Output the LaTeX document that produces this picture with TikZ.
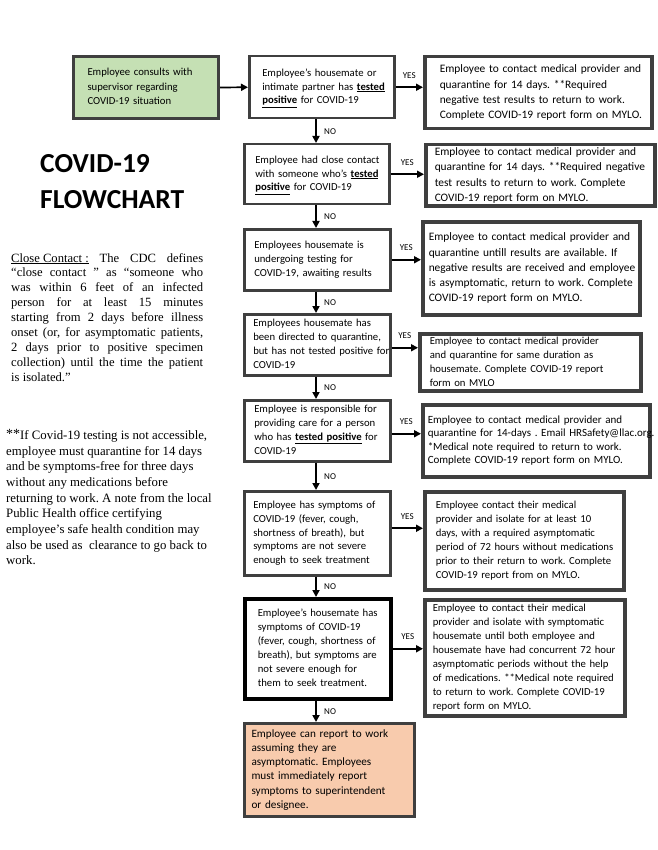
\documentclass[tikz,border=0pt]{standalone}
\usepackage{fontspec}
\setmainfont{Carlito}
\newfontfamily\serifnote{Liberation Serif}
\usetikzlibrary{arrows.meta,calc}
\definecolor{bord}{HTML}{3F3F3F}
\definecolor{greenfill}{HTML}{C5E0B4}
\definecolor{peach}{HTML}{F8CBAD}
\newcommand{\ulb}[1]{\underline{\textbf{#1}}}
\newcommand{\ls}[1]{\noindent\begin{tabular}{@{}l@{}}#1\end{tabular}}
\frenchspacing
\begin{document}
\begin{tikzpicture}[x=1pt,y=-1pt,
  base/.style={anchor=north west, inner ysep=0pt, align=left},
  qbox/.style={base, draw=bord, line width=2.5pt, font=\fontsize{10.7}{13.9}\selectfont},
  abox/.style={base, draw=bord, line width=3.5pt},
  bigtxt/.style={font=\fontsize{11.4}{15.3}\selectfont},
  smtxt/.style={font=\fontsize{10.7}{14}\selectfont},
  arr/.style={line width=1.7pt, -{Triangle[length=7pt,width=7pt]}},
  yes/.style={above=5pt, pos=0.5, font=\fontsize{9}{9}\selectfont},
  no/.style={right=4pt, pos=0.5, font=\fontsize{9}{9}\selectfont},
  title/.style={anchor=base west, inner sep=0pt, font=\bfseries\fontsize{27.5}{33}\selectfont}
]
\fill[white] (0,0) rectangle (657,850);
\useasboundingbox (0,0) rectangle (657,850);

% left column
\node[title] (t1) at (40,172.5) {COVID-19};
\node[title] (t2) at (40,209) {FLOWCHART};

\node[anchor=north west, inner sep=0pt, align=left, font=\serifnote\fontsize{12.6}{14.9}\selectfont] (cc) at (11,253) {%
\makebox[192pt][s]{\underline{Close Contact :} The CDC defines}\\
\makebox[192pt][s]{“close contact ” as “someone who}\\
\makebox[192pt][s]{was within 6 feet of an infected}\\
\makebox[192pt][s]{person for at least 15 minutes}\\
\makebox[192pt][s]{starting from 2 days before illness}\\
\makebox[192pt][s]{onset (or, for asymptomatic patients,}\\
\makebox[192pt][s]{2 days prior to positive specimen}\\
\makebox[192pt][s]{collection) until the time the patient}\\
is isolated.”};

\node[anchor=north west, inner sep=0pt, align=left, font=\serifnote\fontsize{12.8}{15.7}\selectfont] (note) at (6,429) {%
\raisebox{1pt}{\fontsize{14}{14}\selectfont **}If Covid-19 testing is not accessible,\\
employee must quarantine for 14 days\\
and be symptoms-free for three days\\
without any medications before\\
returning to work. A note from the local\\
Public Health office certifying\\
employee’s safe health condition may\\
also be used as\ \ clearance to go back to\\
work.};

% flow boxes
\node[base, draw=bord, line width=3pt, fill=greenfill, inner xsep=14pt, minimum width=145pt, minimum height=62pt, text width=117pt, font=\fontsize{10.7}{14.5}\selectfont] (g) at (72,55)
 {\ls{Employee consults with\\ supervisor regarding\\ COVID-19 situation}};

\node[qbox, inner xsep=13pt, minimum width=145pt, minimum height=62pt, text width=119pt] (q1) at (248,55)
 {\ls{Employee’s housemate or\\ intimate partner has \ulb{tested}\\ \ulb{positive} for COVID-19}};
\node[abox, bigtxt, inner xsep=15pt, minimum width=227pt, minimum height=72pt, text width=197pt] (a1) at (423,55)
 {\ls{Employee to contact medical provider and\\ quarantine for 14 days. **Required\\ negative test results to return to work.\\ Complete COVID-19 report form on MYLO.}};

\node[qbox, inner xsep=11pt, minimum width=145pt, minimum height=60pt, text width=123pt] (q2) at (243,143)
 {\ls{Employee had close contact\\ with someone who’s \ulb{tested}\\ \ulb{positive} for COVID-19}};
\node[abox, bigtxt, inner xsep=9pt, minimum width=229pt, minimum height=59pt, text width=211pt] (a2) at (424,143)
 {\ls{Employee to contact medical provider and\\ quarantine for 14 days. **Required negative\\ test results to return to work. Complete\\ COVID-19 report form on MYLO.}};

\node[qbox, inner xsep=10pt, minimum width=146pt, minimum height=61pt, text width=126pt] (q3) at (243,228)
 {\ls{Employees housemate is\\ undergoing testing for\\ COVID-19, awaiting results}};
\node[abox, bigtxt, inner xsep=6pt, minimum width=217pt, minimum height=93pt, text width=205pt] (a3) at (421,220)
 {\ls{Employee to contact medical provider and\\ quarantine untill results are available. If\\ negative results are received and employee\\ is asymptomatic, return to work. Complete\\ COVID-19 report form on MYLO.}};

\node[qbox, inner xsep=9pt, minimum width=146pt, minimum height=61pt, text width=128pt] (q4) at (243,313)
 {\ls{Employees housemate has\\ been directed to quarantine,\\ but has not tested positive for\\ COVID-19}};
\node[abox, smtxt, inner xsep=10pt, minimum width=221pt, minimum height=57pt, text width=201pt] (a4) at (418,332)
 {\ls{Employee to contact medical provider\\ and quarantine for same duration as\\ housemate. Complete COVID-19 report\\ form on MYLO}};

\node[qbox, inner xsep=10pt, minimum width=146pt, minimum height=61pt, text width=126pt] (q5) at (243,399)
 {\ls{Employee is responsible for\\ providing care for a person\\ who has \ulb{tested positive} for\\ COVID-19}};
\node[abox, inner xsep=5pt, minimum width=227pt, minimum height=72pt, text width=217pt, font=\fontsize{11}{13.6}\selectfont] (a5) at (421,403)
 {\ls{Employee to contact medical provider and\\ quarantine for 14-days . Email HRSafety@llac.org.\\ **Medical note required to return to work.\\ Complete COVID-19 report form on MYLO.}};

\node[qbox, inner xsep=9pt, minimum width=146pt, minimum height=84pt, text width=128pt] (q6) at (243,490)
 {\ls{Employee has symptoms of\\ COVID-19 (fever, cough,\\ shortness of breath), but\\ symptoms are not severe\\ enough to seek treatment}};
\node[abox, smtxt, inner xsep=11pt, minimum width=199pt, minimum height=98pt, text width=177pt] (a6) at (423,490)
 {\ls{Employee contact their medical\\ provider and isolate for at least 10\\ days, with a required asymptomatic\\ period of 72 hours without medications\\ prior to their return to work. Complete\\ COVID-19 report from on MYLO.}};

\node[qbox, draw=black, line width=3.5pt, inner xsep=13pt, minimum width=146pt, minimum height=100pt, text width=120pt] (q7) at (243,597)
 {\ls{Employee’s housemate has\\ symptoms of COVID-19\\ (fever, cough, shortness of\\ breath), but symptoms are\\ not severe enough for\\ them to seek treatment.}};
\node[abox, smtxt, inner xsep=8pt, minimum width=200pt, minimum height=116pt, text width=184pt] (a7) at (423,598)
 {\ls{Employee to contact their medical\\ provider and isolate with symptomatic\\ housemate until both employee and\\ housemate have had concurrent 72 hour\\ asymptomatic periods without the help\\ of medications. **Medical note required\\ to return to work. Complete COVID-19\\ report form on MYLO.}};

\node[base, draw=bord, line width=3pt, fill=peach, inner xsep=7pt, minimum width=170pt, minimum height=93pt, text width=156pt, font=\fontsize{11.2}{14.2}\selectfont] (f) at (243,722)
 {\ls{Employee can report to work\\ assuming they are\\ asymptomatic. Employees\\ must immediately report\\ symptoms to superintendent\\ or designee.}};

% connectors
\coordinate (colx) at (316,0);
\draw[arr] (g.east) -- (q1.west);

\draw[arr] (q1.east) -- node[yes]{YES} (q1.east -| a1.west);
\draw[arr] (q2.east) -- node[yes]{YES} (q2.east -| a2.west);
\draw[arr] (q3.east) -- node[yes]{YES} (q3.east -| a3.west);
\draw[arr] ($(q4.east)+(0,3)$) -- node[yes]{YES} ($(q4.east -| a4.west)+(0,3)$);
\draw[arr] ($(q5.east)+(0,3)$) -- node[yes]{YES} ($(q5.east -| a5.west)+(0,3)$);
\draw[arr] ($(q6.east)+(0,-5)$) -- node[yes]{YES} ($(q6.east -| a6.west)+(0,-5)$);
\draw[arr] (q7.east) -- node[yes]{YES} (q7.east -| a7.west);

\draw[arr] (q1.south -| colx) -- node[no]{NO} (q2.north -| colx);
\draw[arr] (q2.south -| colx) -- node[no]{NO} (q3.north -| colx);
\draw[arr] (q3.south -| colx) -- node[no]{NO} (q4.north -| colx);
\draw[arr] (q4.south -| colx) -- node[no]{NO} (q5.north -| colx);
\draw[arr] (q5.south -| colx) -- node[no]{NO} (q6.north -| colx);
\draw[arr] (q6.south -| colx) -- node[no]{NO} (q7.north -| colx);
\draw[arr] (q7.south -| colx) -- node[no]{NO} (f.north -| colx);
\end{tikzpicture}
\end{document}
